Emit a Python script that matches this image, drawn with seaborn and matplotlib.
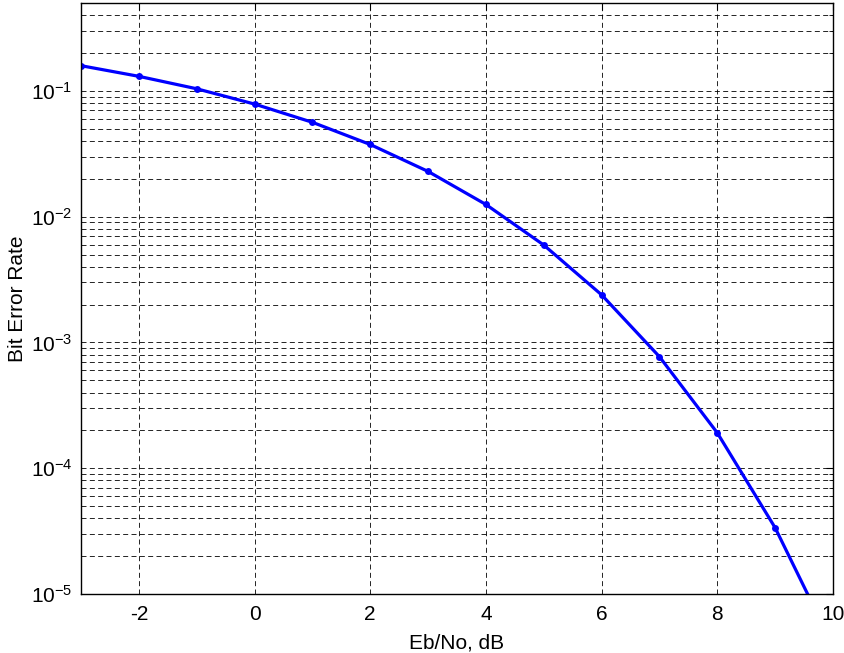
import numpy as np
import pandas as pd
import matplotlib
matplotlib.use("Agg")
import matplotlib.pyplot as plt
import seaborn as sns

ebno_db = [-3, -2, -1, 0, 1, 2, 3, 4, 5, 6, 7, 8, 9, 10]
ber = [0.1587, 0.1306, 0.1040, 0.0786, 0.0563, 0.0375, 0.0229, 0.0125,
       0.00595, 0.00239, 7.7e-4, 1.91e-4, 3.36e-5, 3.87e-6]
x_ticks = [-2, 0, 2, 4, 6, 8, 10]
x_label = "Eb/No, dB"
y_label = "Bit Error Rate"

sns.set_style("white")
plt.rcParams['font.family'] = ['Liberation Sans', 'DejaVu Sans']
plt.rcParams['mathtext.default'] = 'regular'
plt.rcParams['font.size'] = 15
plt.rcParams['text.color'] = 'black'
plt.rcParams['axes.labelcolor'] = 'black'
plt.rcParams['xtick.color'] = 'black'
plt.rcParams['ytick.color'] = 'black'

df = pd.DataFrame({"x": ebno_db, "y": ber})

fig = plt.figure(figsize=(8.44, 6.53), dpi=100)
ax = fig.add_axes([81/844, 59/653, (833-81)/844, (594-3)/653])
sns.lineplot(data=df, x="x", y="y", ax=ax, color="#0000ff", lw=2.3,
             marker="o", markersize=5, markeredgewidth=0)
ax.set_yscale("log")
ax.set_xlim(-3, 10)
ax.set_ylim(1e-5, 0.5)
ax.set_xticks(x_ticks)
ax.set_xticklabels([str(t) for t in x_ticks])
ax.set_xlabel(x_label, fontsize=15, labelpad=7)
ax.set_ylabel(y_label, fontsize=15, labelpad=3)
ax.grid(True, which="major", axis="both", color="black", ls=(0, (6, 4)), lw=0.6)
ax.grid(True, which="minor", axis="y", color="black", ls=(0, (6, 4)), lw=0.6)
ax.tick_params(which="both", direction="in", top=True, right=True,
               labelsize=15, color="black")
ax.tick_params(axis="x", which="major", pad=8)
ax.tick_params(axis="y", which="major", pad=6)
ax.tick_params(which="major", length=5)
ax.tick_params(which="minor", length=3)
for s in ax.spines.values():
    s.set_color("black")
    s.set_linewidth(1.0)
fig.savefig("out.png", dpi=100)
